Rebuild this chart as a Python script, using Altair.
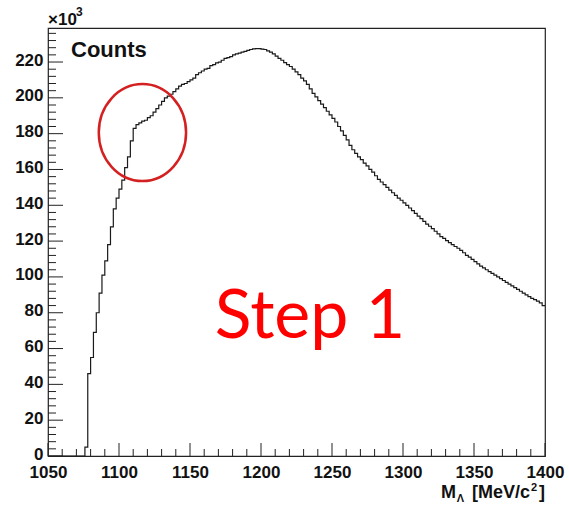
import altair as alt
import pandas as pd

# ---------------- data ----------------
BIN_START = 1050
BIN_WIDTH = 2
X_MAX = 1400
Y_MAX = 239  # frame top (x10^3)

# bin contents (x10^3), 2 MeV bins from 1050 to 1400
counts = [
    0, 0, 0, 0, 0, 0, 0, 0, 0, 0,
    0, 0, 0, 5, 46, 55, 69, 80, 91, 101,
    109, 118, 128, 138, 144, 149, 154, 161, 167, 176,
    183, 185, 186, 187, 187.5, 189, 190, 192, 194, 196,
    198, 200, 201, 202, 203.5, 205, 206.5, 207.5, 208, 209,
    210, 211, 213, 214, 215, 216, 216.5, 218, 218.5, 219.5,
    220, 221, 222, 222.5, 223, 224, 224.5, 225, 225.5, 226,
    226.5, 227, 227.3, 227.5, 227.5, 227.2, 227, 226.2, 225.5, 224.5,
    223.3, 222, 221, 219.7, 218.5, 217.5, 216, 214.5, 213, 211,
    209.5, 207.5, 205, 202.5, 200.5, 198.5, 196.5, 194.5, 192.5, 190.5,
    188.5, 186.5, 184, 181.5, 179, 176.5, 173.5, 171, 169, 167,
    165.5, 163.5, 162, 160, 158.5, 156.5, 154.5, 153, 151.5, 150,
    148.5, 147, 145.5, 144, 142.8, 141.3, 140, 138.5, 137, 135.5,
    134, 132.5, 131, 129.5, 128.3, 127, 125.5, 124, 122.5, 121.5,
    120.3, 119.2, 118, 117, 116, 114.8, 113.5, 112, 111, 109.8,
    108.5, 107.3, 106, 105, 104, 103, 102, 101, 100, 99,
    98, 97, 96, 95, 94, 93, 92, 91, 90, 89,
    88, 87.3, 86.5, 85.5, 84,
]

x_major = [1050, 1100, 1150, 1200, 1250, 1300, 1350, 1400]
x_minor = [v for v in range(1050, 1401, 10) if v % 50 != 0]
y_major = [0, 20, 40, 60, 80, 100, 120, 140, 160, 180, 200, 220]
y_minor = [v for v in range(0, 237, 4) if v % 20 != 0]

# annotation: circled region (data coords)
circle_x = [1116.5]
circle_y = [180.6]

# ---------------- chart ----------------
edges = [BIN_START + i * BIN_WIDTH for i in range(len(counts))] + [X_MAX]
vals = counts + [counts[-1]]
hist = pd.DataFrame({"m": edges, "c": vals})

W, H = 497, 428
FONT = "Liberation Sans"

xs = alt.Scale(domain=[BIN_START, X_MAX], nice=False, zero=False)
ys = alt.Scale(domain=[0, Y_MAX], nice=False, zero=False)

ax_x = alt.Axis(
    values=x_major, format="d", title=None, ticks=False, domain=False, grid=False,
    labelFont=FONT, labelFontSize=17, labelFontWeight="bold",
    labelColor="#111", labelPadding=8, labelFlush=False, labelOverlap=False)
ax_y = alt.Axis(
    values=y_major, format="d", title=None, ticks=False, domain=False, grid=False,
    labelFont=FONT, labelFontSize=17, labelFontWeight="bold",
    labelColor="#111", labelPadding=5, labelOffset=-2, labelOverlap=False)

line = alt.Chart(hist).mark_line(
    interpolate="step-after", color="#1a1a1a", strokeWidth=1.2
).encode(
    x=alt.X("m:Q", scale=xs, axis=ax_x),
    y=alt.Y("c:Q", scale=ys, axis=ax_y),
)

def yticks(vals_, length):
    return alt.Chart(pd.DataFrame({"v": vals_})).mark_rule(
        color="#222", strokeWidth=1
    ).encode(
        y=alt.Y("v:Q", scale=ys, axis=ax_y),
        x=alt.value(0), x2=alt.value(length),
    )

def xticks(vals_, length):
    return alt.Chart(pd.DataFrame({"v": vals_})).mark_rule(
        color="#222", strokeWidth=1
    ).encode(
        x=alt.X("v:Q", scale=xs, axis=ax_x),
        y=alt.value(H), y2=alt.value(H - length),
    )

ellipse_path = ("M -0.9,0 C -0.9,-0.552 -0.497,-1 0,-1 "
                "C 0.497,-1 0.9,-0.552 0.9,0 "
                "C 0.9,0.552 0.497,1 0,1 "
                "C -0.497,1 -0.9,0.552 -0.9,0 Z")
circle = alt.Chart(pd.DataFrame({"x": circle_x, "y": circle_y})).mark_point(
    shape=ellipse_path, size=9409, filled=False, color="#d42020", strokeWidth=2.5,
    opacity=1
).encode(
    x=alt.X("x:Q", scale=xs, axis=ax_x),
    y=alt.Y("y:Q", scale=ys, axis=ax_y),
)

def label(txt, x, y, size, weight="bold", color="#111", align="left",
          font=FONT, baseline="alphabetic"):
    return alt.Chart(pd.DataFrame({"t": [txt]})).mark_text(
        align=align, baseline=baseline, font=font, fontSize=size,
        fontWeight=weight, color=color
    ).encode(x=alt.value(x), y=alt.value(y), text="t:N")

texts = [
    label("Counts", 23, 29, 22),
    label("×10", 0, -3, 17),
    label("3", 28, -12, 12),
    label("M", 408, 470, 18, align="right"),
    label("Λ", 416, 474, 11, align="right"),
    label("[MeV/c", 482, 470, 18, align="right"),
    label("2", 489, 463, 11, align="right"),
    label("]", 497, 470, 18, align="right"),
    label("Step 1", 262, 310, 68, weight="normal", color="#ff0000",
          align="center", font="Comic Sans MS, Lato"),
]

chart = alt.layer(
    line,
    yticks(y_major, 15), yticks(y_minor, 8),
    xticks(x_major, 13), xticks(x_minor, 7),
    circle,
    *texts,
).properties(
    width=W, height=H,
    padding={"left": 48, "top": 28, "right": 24, "bottom": 49},
    autosize=alt.AutoSizeParams(type="none"),
    background="white",
).configure_view(
    stroke="#222", strokeWidth=1.2
)

chart.save("out.html", embed_options={"renderer": "svg", "actions": False})
